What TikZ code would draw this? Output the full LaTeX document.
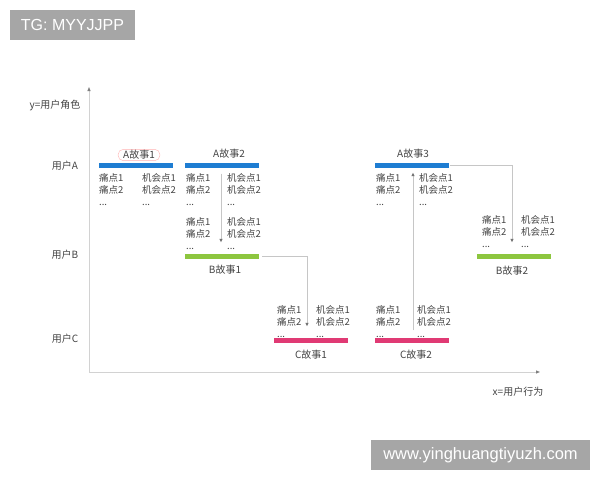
\documentclass[tikz,border=0pt]{standalone}
\usepackage{fontspec}
\setmainfont{Liberation Sans}
\newfontfamily\cjk{Noto Sans CJK SC}
\usetikzlibrary{arrows.meta,positioning}
\definecolor{barblue}{HTML}{1E7DD2}
\definecolor{bargreen}{HTML}{8DC63F}
\definecolor{barpink}{HTML}{E03A74}
\definecolor{inkgray}{HTML}{444444}
\definecolor{markgray}{HTML}{A6A6A6}
\newcommand{\painlist}{痛点1\\痛点2\\...}
\newcommand{\chancelist}{机会点1\\机会点2\\...}
\tikzset{
  bar/.style={fill=#1, draw=none, minimum width=74pt, minimum height=5pt, inner sep=0pt},
  lbl/.style={font=\cjk\fontsize{10}{12}\selectfont, text=inkgray, inner sep=1pt},
  note/.style={lbl, font=\cjk\fontsize{9.5}{12}\selectfont, align=left, anchor=north west, inner sep=0pt},
  conn/.style={draw=gray!45, line width=0.8pt, -{Triangle[length=3.5pt,width=3pt,color=gray!90!black]}},
  axis/.style={draw=gray!35, line width=0.9pt},
  wmark/.style={fill=markgray, text=white, inner sep=0pt, minimum height=30pt}
}
\begin{document}
\begin{tikzpicture}[x=1pt,y=-1pt]
            \fill[white] (0,0) rectangle (600,480);
            \useasboundingbox (0,0) rectangle (600,480);
            % axes
            \coordinate (ytop) at (89,87);
            \coordinate (origin) at (89,372);
            \coordinate (xend) at (540,372);
            \draw[axis,{Triangle[length=4pt,width=3pt,color=gray]}-{Triangle[length=4pt,width=3pt,color=gray]}] (ytop) -- (origin) -- (xend);
            \node[lbl] (ylbl) at (55,105) {y=用户角色};
            \node[lbl] (xlbl) at (518,392) {x=用户行为};
            \node[lbl] (ua) at (65,166) {用户A};
            \node[lbl] (ub) at (65,255) {用户B};
            \node[lbl] (uc) at (65,339) {用户C};
            % story bars
            \node[bar=barblue] (a1) at (136,165) {};
            \node[bar=barblue] (a2) at (222,165) {};
            \node[bar=barblue] (a3) at (412,165) {};
            \node[bar=bargreen] (b1) at (222,256) {};
            \node[bar=bargreen] (b2) at (513.5,256) {};
            \node[bar=barpink] (c1) at (311,340) {};
            \node[bar=barpink] (c2) at (412,340) {};
            % story names
            \node[lbl,draw=red!30,rounded corners=5pt,inner xsep=5pt,inner ysep=1pt] (a1name) at (139,155) {A故事1};
            \node[lbl] (a2name) at (229,154) {A故事2};
            \node[lbl] (a3name) at (413,154) {A故事3};
            \node[lbl] (b1name) at (225,270) {B故事1};
            \node[lbl] (b2name) at (512,271) {B故事2};
            \node[lbl] (c1name) at (311,355) {C故事1};
            \node[lbl] (c2name) at (416,355) {C故事2};
            % pain points and chances
            \foreach \px/\cx/\ty/\nm in {99/142/173.5/a1, 186/227/173.5/a2, 186/227/217.5/b1,
                                         376/419/173.5/a3, 482/521/215.5/b2,
                                         277/316/305.5/c1, 376/417/305.5/c2} {
              \node[note] (\nm p) at (\px,\ty) {\painlist};
              \node[note] (\nm c) at (\cx,\ty) {\chancelist};
            }
            % flow between stories
            \draw[conn] ([xshift=-1pt,yshift=-6pt]a2.south) -- ([xshift=-1pt,yshift=11pt]b1.north);
            \draw[conn] ([xshift=3pt]b1.east) -| ([xshift=-4pt,yshift=11pt]c1.north);
            \draw[conn] ([xshift=1pt,yshift=7pt]c2.north) -- ([xshift=1pt,yshift=-5pt]a3.south);
            \draw[conn] ([xshift=1pt]a3.east) -| ([xshift=-1.5pt,yshift=11pt]b2.north);
            % watermarks
            \node[wmark,minimum width=125pt,font=\fontsize{16}{18}\selectfont] (tg) at (72.5,25) {TG: MYYJJPP};
            \node[wmark,minimum width=219pt,font=\fontsize{16.5}{18}\selectfont] (site) at (480.5,455) {www.yinghuangtiyuzh.com};
        \end{tikzpicture}
\end{document}
